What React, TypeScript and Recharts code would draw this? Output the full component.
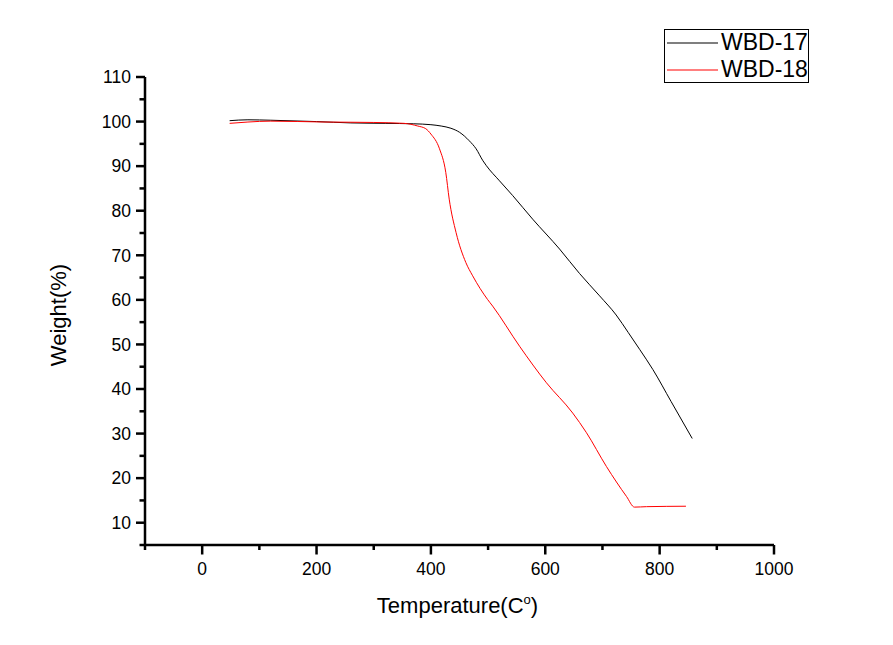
import { LineChart, Line, XAxis, YAxis, Legend } from 'recharts';

// WBD-17 (black)
const temps17 = [48, 80, 120, 200, 260, 320, 370, 400, 418, 435, 450, 467, 479, 491, 497, 520, 543, 578, 625, 660, 695, 724, 745, 765, 788, 820, 857];
const weights17 = [100.2, 100.4, 100.3, 100.0, 99.7, 99.6, 99.5, 99.3, 99.0, 98.5, 97.6, 95.7, 93.9, 91.2, 90.1, 86.7, 83.4, 78.1, 71.4, 65.9, 60.9, 56.6, 52.7, 48.9, 44.4, 37.2, 28.9];

// WBD-18 (red)
const temps18 = [48, 80, 120, 213, 300, 353, 377, 391, 400, 415, 426, 432, 444, 461, 473, 499, 508, 555, 602, 648, 672, 707, 742, 756, 777, 846];
const weights18 = [99.6, 99.9, 100.1, 99.9, 99.8, 99.6, 99.0, 98.4, 97.2, 93.9, 88.6, 82.6, 75.1, 68.4, 65.4, 60.1, 58.6, 49.6, 41.4, 34.6, 30.2, 22.6, 15.9, 13.5, 13.6, 13.7];

const xTicks = [-100, 0, 100, 200, 300, 400, 500, 600, 700, 800, 900, 1000];
const yTicks = [5, 10, 15, 20, 25, 30, 35, 40, 45, 50, 55, 60, 65, 70, 75, 80, 85, 90, 95, 100, 105, 110];

const data17 = temps17.map((t, i) => ({ t, w: weights17[i] }));
const data18 = temps18.map((t, i) => ({ t, w: weights18[i] }));

const FONT = "'Liberation Sans', Arial, sans-serif";

const XTick = ({ x, y, payload }: any) => {
  const major = payload.value % 200 === 0;
  return (
    <g>
      <line x1={x} x2={x} y1={y} y2={y + (major ? 9.5 : 5)} stroke="#000" strokeWidth={2.5} />
      {major && (
        <text x={x} y={y + 30} textAnchor="middle" fontSize={17.5} fontFamily={FONT} fill="#000">
          {payload.value}
        </text>
      )}
    </g>
  );
};

const YTick = ({ x, y, payload }: any) => {
  const major = payload.value % 10 === 0;
  return (
    <g>
      <line x1={x} x2={x - (major ? 9 : 5.5)} y1={y} y2={y} stroke="#000" strokeWidth={2.5} />
      {major && (
        <text x={x - 14} y={y + 6.3} textAnchor="end" fontSize={17.5} fontFamily={FONT} fill="#000">
          {payload.value}
        </text>
      )}
    </g>
  );
};

const XTitle = ({ viewBox }: any) => {
  const cx = viewBox.x + viewBox.width / 2 - 2;
  return (
    <text x={cx} y={viewBox.y + 68} textAnchor="middle" fontSize={22} fontFamily={FONT} fill="#000">
      Temperature(C<tspan dy={-9} fontSize={13}>o</tspan>
      <tspan dy={9}>)</tspan>
    </text>
  );
};

const YTitle = () => (
  <text
    x={58}
    y={315}
    transform="rotate(-90 58 315)"
    textAnchor="middle"
    dominantBaseline="central"
    fontSize={22}
    fontFamily={FONT}
    fill="#000"
  >
    Weight(%)
  </text>
);

const LegendBox = ({ payload }: any) => (
  <div
    style={{
      width: 145,
      height: 54,
      boxSizing: 'border-box',
      border: '1.5px solid #000',
      background: '#fff',
      fontFamily: FONT,
      fontSize: 23,
      color: '#000',
      whiteSpace: 'nowrap',
      overflow: 'visible',
    }}
  >
    {(payload || []).map((p: any, i: number) => (
      <div
        key={p.value}
        style={{ display: 'flex', alignItems: 'center', height: 27.5, lineHeight: '27.5px', marginTop: i === 0 ? -1.5 : 0 }}
      >
        <svg width={56} height={27} style={{ display: 'block', flex: 'none' }}>
          <line x1={2} x2={53} y1={14} y2={14} stroke={p.color} strokeWidth={1.2} />
        </svg>
        <span style={{ flex: 'none' }}>{p.value}</span>
      </div>
    ))}
  </div>
);

export default function App() {
  return (
    <div style={{ position: 'absolute', left: 0, top: 0, width: 893, height: 645, background: '#fff' }}>
      <LineChart width={893} height={645} margin={{ top: 77, right: 119, bottom: 0, left: 0 }}>
        <XAxis
          dataKey="t"
          type="number"
          domain={[-100, 1000]}
          ticks={xTicks}
          interval={0}
          allowDuplicatedCategory={false}
          height={100}
          tickSize={0}
          tickMargin={0}
          tickLine={false}
          axisLine={{ stroke: '#000', strokeWidth: 2.5 }}
          tick={<XTick />}
          label={<XTitle />}
        />
        <YAxis
          type="number"
          domain={[5, 110]}
          ticks={yTicks}
          interval={0}
          width={145}
          tickSize={0}
          tickMargin={0}
          tickLine={false}
          axisLine={{ stroke: '#000', strokeWidth: 2.5 }}
          tick={<YTick />}
          label={<YTitle />}
        />
        <Legend
          layout="vertical"
          align="center"
          verticalAlign="middle"
          wrapperStyle={{ left: 664, top: 29, width: 145, height: 54 }}
          content={<LegendBox />}
        />
        <Line
          data={data17}
          dataKey="w"
          name="WBD-17"
          type="monotone"
          stroke="#000000"
          strokeWidth={1}
          dot={false}
          isAnimationActive={false}
        />
        <Line
          data={data18}
          dataKey="w"
          name="WBD-18"
          type="monotone"
          stroke="#ff0000"
          strokeWidth={1}
          dot={false}
          isAnimationActive={false}
        />
      </LineChart>
    </div>
  );
}
